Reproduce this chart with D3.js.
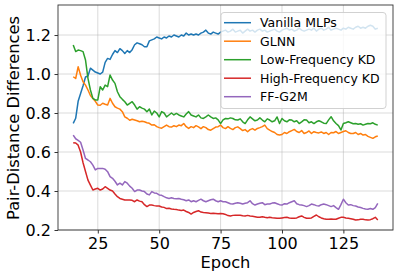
<!DOCTYPE html>
<html><head><meta charset="utf-8">
<script src="https://cdn.jsdelivr.net/npm/d3@7"></script>
<style>body{margin:0;background:#fff}svg{display:block}text{font-family:"DejaVu Sans",sans-serif}</style>
</head><body><svg id="c" width="399" height="279"></svg>
<script>
const epochStart = 15;
const seriesNames = ["Vanilla MLPs","GLNN","Low-Frequency KD","High-Frequency KD","FF-G2M"];
const xTicks = [25,50,75,100,125];
const yTicks = [0.2,0.4,0.6,0.8,1.0,1.2];
const vanilla = [0.747,0.773,0.86,0.90,0.94,0.985,0.99,1.03,1.02,1.01,
1.005,1.00,1.01,1.06,1.08,1.075,1.10,1.12,1.11,1.13,
1.12,1.105,1.12,1.11,1.125,1.15,1.16,1.155,1.15,1.14,
1.14,1.17,1.175,1.18,1.19,1.185,1.18,1.19,1.185,1.195,
1.19,1.20,1.195,1.19,1.20,1.195,1.21,1.20,1.205,1.20,
1.205,1.20,1.21,1.215,1.225,1.21,1.205,1.215,1.21,1.205,
1.215,1.22,1.225,1.215,1.22,1.23,1.215,1.22,1.225,1.21,
1.22,1.23,1.22,1.225,1.215,1.225,1.23,1.22,1.225,1.215,
1.22,1.225,1.23,1.22,1.215,1.225,1.23,1.235,1.225,1.23,
1.22,1.225,1.235,1.225,1.22,1.225,1.23,1.225,1.235,1.22,
1.23,1.235,1.225,1.23,1.24,1.225,1.23,1.235,1.23,1.225,
1.235,1.23,1.24,1.235,1.23,1.24,1.245,1.235,1.24,1.235,
1.245,1.25,1.245,1.23,1.235];
const glnn = [0.986,0.977,1.037,0.994,0.96,0.943,0.918,0.89,0.875,0.86,
0.841,0.84,0.85,0.845,0.841,0.875,0.85,0.832,0.825,0.82,
0.807,0.78,0.773,0.763,0.768,0.764,0.76,0.755,0.758,0.755,
0.75,0.747,0.738,0.74,0.73,0.725,0.722,0.73,0.738,0.73,
0.728,0.735,0.73,0.738,0.735,0.746,0.73,0.721,0.73,0.725,
0.735,0.729,0.72,0.73,0.725,0.715,0.712,0.72,0.728,0.73,
0.738,0.725,0.72,0.73,0.721,0.715,0.725,0.729,0.72,0.71,
0.715,0.704,0.715,0.72,0.712,0.721,0.725,0.73,0.738,0.72,
0.712,0.705,0.70,0.69,0.687,0.69,0.70,0.695,0.704,0.71,
0.716,0.705,0.70,0.71,0.695,0.70,0.708,0.695,0.704,0.70,
0.698,0.703,0.695,0.70,0.69,0.70,0.699,0.705,0.695,0.70,
0.705,0.709,0.70,0.695,0.695,0.70,0.69,0.695,0.687,0.69,
0.68,0.675,0.67,0.678,0.682];
const lowKD = [1.149,1.115,1.123,1.12,1.115,1.072,0.978,0.918,0.875,0.867,
0.867,0.935,0.918,0.943,0.935,0.995,0.969,0.952,0.909,0.884,
0.87,0.858,0.841,0.85,0.858,0.841,0.82,0.832,0.825,0.82,
0.807,0.82,0.79,0.81,0.80,0.78,0.807,0.80,0.78,0.79,
0.80,0.79,0.798,0.79,0.785,0.78,0.795,0.807,0.79,0.785,
0.78,0.79,0.775,0.772,0.78,0.79,0.78,0.772,0.775,0.765,
0.746,0.765,0.772,0.77,0.775,0.772,0.765,0.764,0.77,0.755,
0.746,0.765,0.78,0.77,0.76,0.764,0.775,0.764,0.755,0.77,
0.764,0.755,0.76,0.78,0.746,0.772,0.76,0.755,0.765,0.764,
0.755,0.76,0.746,0.755,0.765,0.764,0.75,0.755,0.746,0.755,
0.76,0.755,0.748,0.746,0.765,0.781,0.76,0.746,0.735,0.713,
0.746,0.75,0.755,0.75,0.745,0.746,0.742,0.745,0.738,0.742,
0.746,0.745,0.75,0.742,0.738];
const highKD = [0.648,0.646,0.635,0.60,0.545,0.50,0.456,0.43,0.405,0.41,
0.414,0.405,0.41,0.422,0.414,0.405,0.40,0.385,0.371,0.362,
0.358,0.354,0.354,0.354,0.352,0.345,0.354,0.348,0.345,0.33,
0.32,0.328,0.328,0.325,0.323,0.323,0.318,0.316,0.31,0.312,
0.308,0.306,0.305,0.302,0.30,0.302,0.295,0.29,0.282,0.29,
0.295,0.299,0.292,0.29,0.289,0.287,0.285,0.286,0.285,0.283,
0.285,0.283,0.28,0.274,0.272,0.275,0.276,0.276,0.276,0.273,
0.272,0.275,0.272,0.27,0.268,0.265,0.265,0.268,0.265,0.263,
0.265,0.263,0.262,0.26,0.26,0.262,0.264,0.265,0.262,0.26,
0.26,0.262,0.268,0.272,0.265,0.26,0.26,0.262,0.27,0.277,
0.268,0.262,0.258,0.255,0.255,0.256,0.255,0.255,0.26,0.265,
0.265,0.262,0.26,0.258,0.255,0.251,0.252,0.255,0.255,0.252,
0.251,0.253,0.258,0.265,0.251];
const ffg2m = [0.687,0.668,0.66,0.65,0.61,0.567,0.559,0.55,0.533,0.508,
0.516,0.516,0.516,0.512,0.499,0.474,0.465,0.45,0.431,0.44,
0.431,0.448,0.44,0.425,0.414,0.397,0.405,0.405,0.40,0.397,
0.385,0.38,0.397,0.39,0.388,0.38,0.378,0.371,0.365,0.362,
0.365,0.362,0.36,0.362,0.358,0.355,0.35,0.354,0.345,0.35,
0.345,0.352,0.358,0.35,0.345,0.35,0.355,0.358,0.35,0.345,
0.35,0.345,0.345,0.34,0.335,0.333,0.337,0.34,0.337,0.333,
0.337,0.34,0.35,0.335,0.328,0.333,0.337,0.34,0.33,0.333,
0.333,0.338,0.34,0.335,0.33,0.328,0.335,0.333,0.34,0.345,
0.35,0.335,0.33,0.328,0.325,0.32,0.325,0.333,0.33,0.325,
0.323,0.33,0.333,0.33,0.325,0.32,0.325,0.315,0.306,0.33,
0.358,0.34,0.328,0.33,0.325,0.323,0.318,0.315,0.311,0.308,
0.306,0.31,0.306,0.315,0.337];
const colors = ["#1f77b4","#ff7f0e","#2ca02c","#d62728","#9467bd"];
const allSeries = [vanilla, glnn, lowKD, highKD, ffg2m];

const svg = d3.select("#c");
const L = 58, R = 393, T = 5, B = 230;
const x = d3.scaleLinear().domain([8.8, 145.2]).range([L, R]);
const y = d3.scaleLinear().domain([0.2, 1.354]).range([B, T]);

// grid
const g = svg.append("g");
g.selectAll(".gx").data(xTicks).enter().append("line")
  .attr("x1", d => x(d)).attr("x2", d => x(d)).attr("y1", T).attr("y2", B)
  .attr("stroke", "#b0b0b0").attr("stroke-opacity", 0.6).attr("stroke-width", 0.8);
g.selectAll(".gy").data(yTicks).enter().append("line")
  .attr("y1", d => y(d)).attr("y2", d => y(d)).attr("x1", L).attr("x2", R)
  .attr("stroke", "#b0b0b0").attr("stroke-opacity", 0.6).attr("stroke-width", 0.8);

// lines
const line = d3.line().x((d, i) => x(epochStart + i)).y(d => y(d));
allSeries.forEach((s, k) => {
  svg.append("path").datum(s).attr("d", line).attr("fill", "none")
    .attr("stroke", colors[k]).attr("stroke-width", 1.5).attr("stroke-linejoin", "round");
});

// frame
svg.append("rect").attr("x", L).attr("y", T).attr("width", R - L).attr("height", B - T)
  .attr("fill", "none").attr("stroke", "#333").attr("stroke-width", 0.9);

// axes
const xa = svg.append("g").attr("transform", `translate(0,${B})`)
  .call(d3.axisBottom(x).tickValues(xTicks).tickSize(3.5).tickPadding(4.5).tickFormat(d3.format("d")));
const ya = svg.append("g").attr("transform", `translate(${L},0)`)
  .call(d3.axisLeft(y).tickValues(yTicks).tickSize(3.5).tickPadding(3.5).tickFormat(d3.format(".1f")));
[xa, ya].forEach(a => {
  a.select(".domain").remove();
  a.selectAll("line").attr("stroke", "#333");
  a.selectAll("text").attr("font-size", 16).attr("fill", "#000").attr("font-family", "DejaVu Sans");
});

svg.append("text").attr("x", (L + R) / 2).attr("y", 268).attr("text-anchor", "middle")
  .attr("font-size", 16.3).text("Epoch");
svg.append("text").attr("transform", `translate(19,${(T + B) / 2 + 0.5}) rotate(-90)`)
  .attr("text-anchor", "middle").attr("font-size", 16.3).text("Pair-Distance Differences");

// legend
const lg = svg.append("g");
lg.append("rect").attr("x", 221).attr("y", 12.5).attr("width", 165).attr("height", 96)
  .attr("rx", 3).attr("fill", "#fff").attr("fill-opacity", 0.8).attr("stroke", "#ccc").attr("stroke-width", 0.9);
seriesNames.forEach((n, k) => {
  const cy = 22.7 + k * 18.5;
  lg.append("line").attr("x1", 224).attr("x2", 251).attr("y1", cy).attr("y2", cy)
    .attr("stroke", colors[k]).attr("stroke-width", 1.5);
  lg.append("text").attr("x", 260).attr("y", cy + 4.5).attr("font-size", 12.5).text(n);
});
</script></body></html>
